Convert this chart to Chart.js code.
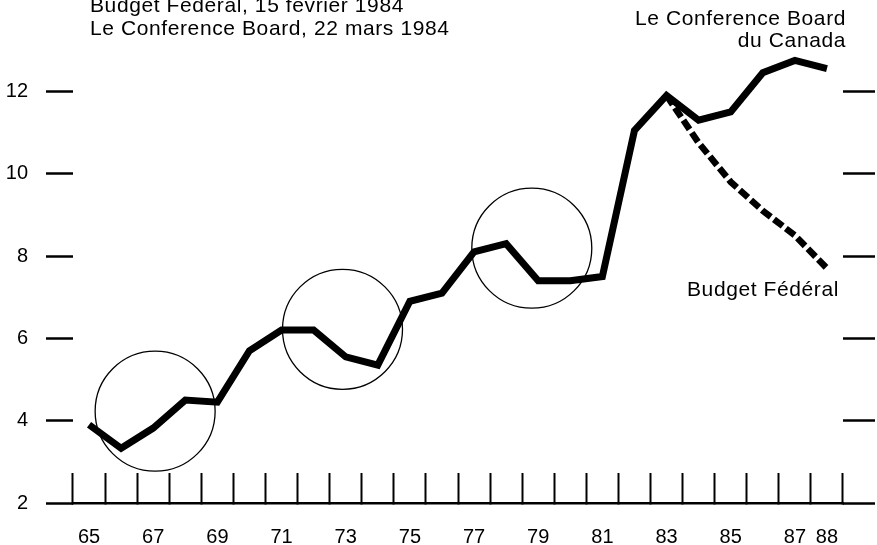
<!DOCTYPE html>
<html>
<head>
<meta charset="utf-8">
<script src="https://cdn.jsdelivr.net/npm/chart.js@4"></script>
<style>
  html, body { margin: 0; padding: 0; background: #fff; }
</style>
</head>
<body>
<canvas id="chart" width="877" height="545"></canvas>
<script>
// categories on the bottom axis (years 1965-1988)
const years = ['65','66','67','68','69','70','71','72','73','74','75','76',
               '77','78','79','80','81','82','83','84','85','86','87','88'];
// which year labels are printed
const shownYears = ['65','67','69','71','73','75','77','79','81','83','85','87','88'];

// Le Conference Board du Canada (solid line)
const conferenceBoard = [3.9, 3.33, 3.82, 4.5, 4.45, 5.7, 6.2, 6.2, 5.55, 5.35, 6.9, 7.1,
                         8.1, 8.3, 7.4, 7.4, 7.5, 11.05, 11.9, 11.3, 11.5, 12.45, 12.75, 12.55];
// Budget Fédéral (dashed line, 1983-1988)
const budgetFederal = [null, null, null, null, null, null, null, null, null, null, null, null,
                       null, null, null, null, null, null, 11.9, 10.75, 9.8, 9.1, 8.5, 7.7];

// y tick labels
const yTicks = [2, 4, 6, 8, 10, 12];

// circled periods (centre year, centre value)
const circleYears = [67.06, 72.9, 78.8];
const circleValues = [4.23, 6.22, 8.19];

const FONT = '"Liberation Sans", Arial, Helvetica, sans-serif';

// annotation texts
const textPlugin = {
  id: 'texts',
  afterDraw(chart) {
    const ctx = chart.ctx;
    ctx.save();
    ctx.fillStyle = '#000';
    ctx.font = '21px ' + FONT;
    ctx.letterSpacing = '0.6px';
    ctx.textBaseline = 'alphabetic';
    ctx.textAlign = 'left';
    ctx.fillText('Budget Fédéral, 15 février 1984', 90, 12);
    ctx.fillText('Le Conference Board, 22 mars 1984', 90, 35);
    ctx.fillText('Budget Fédéral', 687, 296);
    ctx.textAlign = 'right';
    ctx.fillText('Le Conference Board', 846, 25);
    ctx.fillText('du Canada', 846, 47);
    ctx.restore();
  }
};

const setTicks = (scale) => {
  scale.ticks = yTicks.map(v => ({ value: v }));
};
// keep the plot area fixed: no extra label padding around the axes
const fixSize = (w, h) => (s) => {
  if (w !== null) s.width = w;
  if (h !== null) s.height = h;
  s.paddingTop = 0; s.paddingBottom = 0;
  s.paddingLeft = 0; s.paddingRight = 0;
};

new Chart(document.getElementById('chart'), {
  type: 'line',
  data: {
    labels: years,
    datasets: [
      {
        label: 'Le Conference Board du Canada',
        data: conferenceBoard,
        borderColor: '#000',
        borderWidth: 7,
        borderCapStyle: 'butt',
        borderJoinStyle: 'miter',
        pointRadius: 0,
        tension: 0,
        order: 1
      },
      {
        label: 'Budget Fédéral',
        data: budgetFederal,
        borderColor: '#000',
        borderWidth: 6.5,
        borderDash: [11, 4],
        borderCapStyle: 'butt',
        pointRadius: 0,
        tension: 0,
        order: 2
      },
      {
        label: 'circles',
        data: circleYears.map((x, i) => ({ x: x, y: circleValues[i] })),
        xAxisID: 'xc',
        showLine: false,
        pointRadius: 60,
        pointBorderWidth: 1.3,
        pointBorderColor: '#000',
        pointBackgroundColor: 'rgba(0,0,0,0)',
        order: 3
      }
    ]
  },
  options: {
    responsive: false,
    animation: false,
    layout: { autoPadding: false, padding: { top: 9, left: 0, right: 0, bottom: 0 } },
    plugins: {
      legend: { display: false },
      tooltip: { enabled: false }
    },
    scales: {
      x: {
        type: 'category',
        offset: true,
        afterFit: fixSize(null, 42),
        border: { display: true, color: '#000', width: 2.5 },
        grid: {
          offset: true,
          drawOnChartArea: false,
          drawTicks: true,
          tickLength: -30,
          tickWidth: 2,
          tickColor: '#000'
        },
        ticks: {
          autoSkip: false,
          maxRotation: 0,
          padding: 52,
          color: '#000',
          font: { family: FONT, size: 20 },
          callback: function (v, i) {
            const lab = years[i];
            return shownYears.includes(lab) ? lab : '';
          }
        }
      },
      xc: {
        type: 'linear',
        display: false,
        min: 64.5,
        max: 88.5
      },
      y: {
        position: 'left',
        min: 2,
        max: 14,
        afterBuildTicks: setTicks,
        afterFit: fixSize(73, null),
        border: { display: false },
        grid: {
          drawOnChartArea: false,
          drawTicks: true,
          tickLength: 27,
          tickWidth: 2.5,
          tickColor: '#000'
        },
        ticks: {
          padding: 18,
          color: '#000',
          font: { family: FONT, size: 20 }
        }
      },
      yr: {
        position: 'right',
        min: 2,
        max: 14,
        afterBuildTicks: setTicks,
        afterFit: fixSize(34, null),
        border: { display: false },
        grid: {
          drawOnChartArea: false,
          drawTicks: true,
          tickLength: 32,
          tickWidth: 2.5,
          tickColor: '#000'
        },
        ticks: { display: false }
      }
    }
  },
  plugins: [textPlugin]
});
</script>
</body>
</html>
